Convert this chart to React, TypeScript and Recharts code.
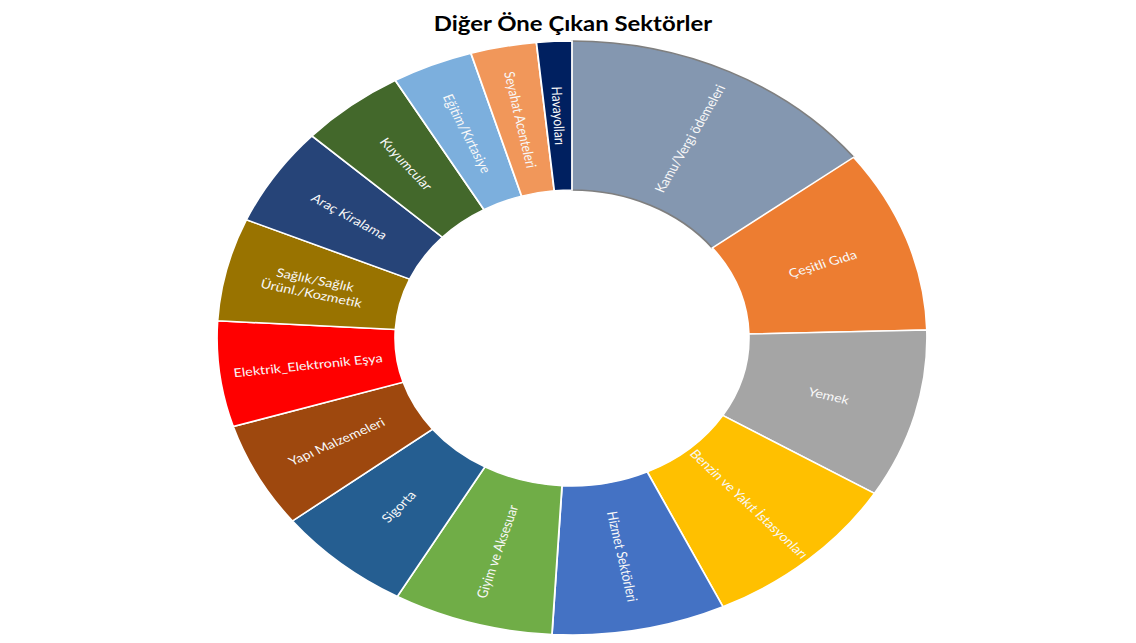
import React from 'react';
import { PieChart, Pie, Cell } from 'recharts';

// sectors clockwise from 12 o'clock
const sectors = [
  'Kamu/Vergi ödemeleri',
  'Çeşitli Gıda',
  'Yemek',
  'Benzin ve Yakıt İstasyonları',
  'Hizmet Sektörleri',
  'Giyim ve Aksesuar',
  'Sigorta',
  'Yapı Malzemeleri',
  'Elektrik_Elektronik Eşya',
  'Sağlık/Sağlık\nÜrünl./Kozmetik',
  'Araç Kiralama',
  'Kuyumcular',
  'Eğitim/Kırtasiye',
  'Seyahat Acenteleri',
  'Havayolları',
];

// share of total (%)
const shares = [14.6, 10.0, 9.2, 9.25, 7.9, 7.3, 6.25, 5.75, 5.75, 5.6, 5.4, 4.8, 3.7, 3.0, 1.6];

const colors = [
  '#8497B0', '#ED7D31', '#A5A5A5', '#FFC000', '#4472C4',
  '#70AD47', '#255E91', '#9E480E', '#FF0000', '#997300',
  '#264478', '#43682B', '#7CAFDD', '#F1975A', '#002060',
];

const data = sectors.map((name, i) => ({ name, value: shares[i] }));

const RAD = Math.PI / 180;
const SIZE = 640;
const R_OUT = 297;
const R_IN = 148;
const STRETCH = 355 / 297;

const renderLabel = (props: any) => {
  const { cx, cy, midAngle, innerRadius, outerRadius, index } = props;
  const r = (innerRadius + outerRadius) / 2;
  const x = cx + r * Math.cos(-midAngle * RAD);
  const y = cy + r * Math.sin(-midAngle * RAD);
  let rot = -midAngle;
  if (Math.cos(midAngle * RAD) < 0) rot += 180;
  const lines = sectors[index].split('\n');
  const lh = 14;
  const start = -((lines.length - 1) * lh) / 2;
  return (
    <text
      x={x}
      y={y}
      transform={`rotate(${rot} ${x} ${y})`}
      fill="#f8f8f8"
      fontSize={12}
      fontFamily="Lato, sans-serif"
      textAnchor="middle"
      dominantBaseline="central"
    >
      {lines.map((ln, k) => (
        <tspan key={k} x={x} dy={k === 0 ? start : lh}>
          {ln}
        </tspan>
      ))}
    </text>
  );
};

export default function App() {
  return (
    <div style={{ position: 'relative', width: 1136, height: 643, overflow: 'hidden', background: '#fff', margin: -8 }}>
      <div
        style={{
          position: 'absolute',
          left: 6,
          top: 1,
          width: 1150,
          height: 660,
          border: '1px solid #d0d0d0',
          boxSizing: 'border-box',
        }}
      />
      <div
        style={{
          position: 'absolute',
          left: 0,
          width: 1146,
          top: 8,
          textAlign: 'center',
          fontFamily: 'Lato, sans-serif',
          fontWeight: 700,
          fontSize: 20,
          color: '#000',
          lineHeight: '30px',
          transform: `scaleX(${STRETCH})`,
          transformOrigin: '573px 50%',
        }}
      >
        Diğer Öne Çıkan Sektörler
      </div>
      <div
        style={{
          position: 'absolute',
          left: 572 - SIZE / 2,
          top: 338 - SIZE / 2,
          width: SIZE,
          height: SIZE,
          transform: `scaleX(${STRETCH})`,
          transformOrigin: '50% 50%',
        }}
      >
        <PieChart width={SIZE} height={SIZE} margin={{ top: 0, right: 0, bottom: 0, left: 0 }}>
          <Pie
            data={data}
            dataKey="value"
            nameKey="name"
            cx="50%"
            cy="50%"
            innerRadius={R_IN}
            outerRadius={R_OUT}
            startAngle={90}
            endAngle={-270}
            label={renderLabel}
            labelLine={false}
            isAnimationActive={false}
          >
            {data.map((d, i) => (
              <Cell key={d.name} fill={colors[i]} stroke={i === 0 ? '#7f7f7f' : '#ffffff'} strokeWidth={1.5} />
            ))}
          </Pie>
        </PieChart>
      </div>
    </div>
  );
}
